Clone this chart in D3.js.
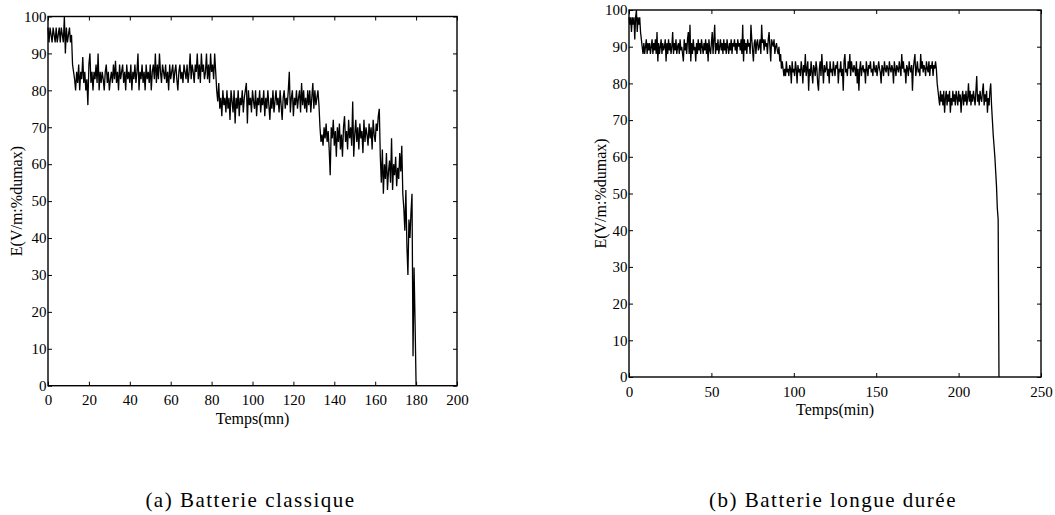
<!DOCTYPE html>
<html>
<head>
<meta charset="utf-8">
<script src="https://cdn.jsdelivr.net/npm/d3@7"></script>
<style>
  html, body { margin: 0; padding: 0; background: #fff; }
  svg { display: block; }
  .tick text { font-family: "Liberation Serif", "Times New Roman", serif; font-size: 15px; fill: #000; }
  .tick line { stroke: #000; stroke-width: 1; }
  .title { font-family: "Liberation Serif", "Times New Roman", serif; font-size: 16px; fill: #000; }
  .caption { font-family: "Liberation Serif", "Times New Roman", serif; font-size: 21px; letter-spacing: 1.5px; fill: #000; }
</style>
</head>
<body>
<svg id="fig" width="1055" height="515"></svg>
<script>
// Sampling interval of both recordings (minutes)
const sampleStep = 0.5;

// (a) Batterie classique — field level in % of max, one sample every 0.5 min, 0 → 180 min
const batterieClassique = [
  97,93,97,95,93,97,95,93,97,93,95,97,93,97,95,93,100,90,97,93,95,97,93,95,
  87,85,83,80,85,82,87,80,85,83,
  89,82,85,80,83,76,87,90,82,85,
  80,85,83,87,82,90,80,85,82,85,
  83,80,85,87,82,85,80,83,85,82,
  87,83,88,82,85,80,87,83,85,87,
  82,85,80,87,83,85,82,87,80,85,
  83,87,82,85,90,80,85,83,87,82,
  85,80,87,83,85,82,87,80,85,87,
  83,90,82,87,83,90,85,82,87,85,
  83,87,82,85,80,87,83,85,87,82,
  85,87,83,80,85,87,83,85,82,87,
  85,83,87,82,85,90,83,87,85,82,
  87,85,90,83,87,82,90,85,87,83,
  85,90,83,87,82,90,85,87,83,90,
  85,
  80,77,82,75,78,73,80,76,78,74,
  80,75,78,72,80,77,74,80,71,78,
  75,80,73,78,76,80,74,78,80,82,
  71,80,76,78,74,80,77,75,80,73,
  78,76,80,74,78,76,80,73,78,75,
  80,76,72,78,75,80,74,77,80,76,
  78,74,80,76,72,78,80,75,78,76,
  80,85,74,78,80,73,78,76,80,75,
  78,80,74,82,76,80,75,78,74,80,
  76,80,74,78,82,75,80,76,78,80,
  76,70,66,68,65,70,67,71,66,69,
  64,57,70,67,72,65,69,62,70,66,
  71,64,68,62,70,73,66,69,64,72,
  67,70,65,77,62,68,72,66,70,64,
  71,67,69,63,72,66,70,68,65,71,
  67,70,64,72,68,66,71,69,73,75,
  62,55,64,52,60,56,63,53,58,61,
  55,67,53,60,57,62,54,59,56,63,
  58,65,52,48,42,53,38,30,45,40,
  47,52,8,32,17,0
];

// (b) Batterie longue durée — same sampling, 0 → 224.5 min
const batterieLongueDuree = [
  98,96,98,94,98,96,98,92,98,100,94,98,96,98,94,
  92,90,88,91,88,90,92,88,91,89,
  91,88,90,92,88,91,89,92,88,94,
  86,91,88,90,92,88,91,89,90,92,
  86,91,88,92,89,91,88,90,94,88,
  91,89,92,88,90,91,88,92,89,90,
  88,86,92,89,91,88,92,94,88,96,
  86,91,88,92,89,90,86,91,88,92,
  89,91,88,92,90,88,91,89,92,88,
  91,86,92,89,88,91,94,88,92,96,
  88,91,89,92,88,90,92,89,91,88,
  92,89,91,88,92,90,88,91,89,92,
  88,91,90,92,89,91,88,92,90,91,
  89,92,88,96,86,92,89,91,88,92,
  90,91,88,96,92,89,86,91,92,88,
  91,92,89,90,92,88,96,91,92,89,
  92,90,91,88,92,94,90,86,92,91,
  90,92,88,90,91,89,
  88,90,86,88,84,86,84,82,
  84,82,86,83,84,82,85,84,80,86,
  83,84,82,86,84,80,85,83,84,82,
  86,84,80,85,83,88,82,84,86,78,
  84,82,86,83,80,85,84,82,86,84,
  80,78,84,86,82,88,84,80,85,83,
  84,86,82,84,80,86,83,84,82,86,
  84,82,85,84,86,80,84,83,86,82,
  84,78,86,88,83,84,82,86,84,88,
  82,86,84,83,85,84,82,86,80,84,
  78,84,86,82,84,85,83,84,80,86,
  84,82,85,84,86,83,84,82,86,84,
  83,85,82,84,86,84,83,80,85,84,
  82,86,84,83,85,84,82,86,84,83,
  85,84,80,86,84,82,85,84,83,86,
  84,82,88,84,86,83,84,80,85,84,
  82,86,84,83,85,78,84,86,88,82,
  84,86,83,84,82,88,84,86,83,85,
  84,82,86,84,83,86,82,85,84,86,
  82,85,84,86,84,
  80,78,76,74,78,75,77,74,78,72,
  76,78,74,77,75,78,72,76,74,78,
  75,77,74,78,76,74,78,75,77,72,
  76,78,74,77,75,78,74,76,80,75,
  78,74,77,75,78,76,74,78,82,75,
  77,74,78,76,75,78,80,74,77,75,
  78,72,76,74,78,80,74,
  70,66,63,60,56,52,46,43,0
];

// Axis ticks and labels
const yTicks = [0, 10, 20, 30, 40, 50, 60, 70, 80, 90, 100];
const xTicksClassique = [0, 20, 40, 60, 80, 100, 120, 140, 160, 180, 200];
const xTicksLongue = [0, 50, 100, 150, 200, 250];
const yTitle = "E(V/m:%dumax)";

const panels = [
  {
    data: batterieClassique, xMax: 200, xTicks: xTicksClassique,
    left: 48, right: 457, top: 16.5, bottom: 385.7,
    xTitle: "Temps(mn)", xTitleY: 424, yTitleX: 22,
    caption: "(a) Batterie classique"
  },
  {
    data: batterieLongueDuree, xMax: 250, xTicks: xTicksLongue,
    left: 629, right: 1041, top: 10, bottom: 377,
    xTitle: "Temps(min)", xTitleY: 415, yTitleX: 606,
    caption: "(b) Batterie longue durée"
  }
];

const svg = d3.select("#fig");

panels.forEach(p => {
  const x = d3.scaleLinear().domain([0, p.xMax]).range([p.left, p.right]);
  const y = d3.scaleLinear().domain([0, 100]).range([p.bottom, p.top]);
  const g = svg.append("g");

  // inward ticks on all four sides
  const bottomAxis = d3.axisBottom(x).tickValues(p.xTicks).tickFormat(d3.format("d"))
    .tickSizeInner(-4).tickSizeOuter(0).tickPadding(9);
  const topAxis = d3.axisTop(x).tickValues(p.xTicks).tickFormat(() => "")
    .tickSizeInner(-4).tickSizeOuter(0);
  const leftAxis = d3.axisLeft(y).tickValues(yTicks).tickFormat(d3.format("d"))
    .tickSizeInner(-4).tickSizeOuter(0).tickPadding(1.5);
  const rightAxis = d3.axisRight(y).tickValues(yTicks).tickFormat(() => "")
    .tickSizeInner(-4).tickSizeOuter(0);

  g.append("g").attr("transform", `translate(0,${p.bottom})`).call(bottomAxis);
  g.append("g").attr("transform", `translate(0,${p.top})`).call(topAxis);
  g.append("g").attr("transform", `translate(${p.left},0)`).call(leftAxis);
  g.append("g").attr("transform", `translate(${p.right},0)`).call(rightAxis);
  g.selectAll(".domain").remove();

  // the recorded signal
  const line = d3.line()
    .x((d, i) => x(i * sampleStep))
    .y(d => y(d));
  g.append("path")
    .datum(p.data)
    .attr("d", line)
    .attr("fill", "none")
    .attr("stroke", "#000")
    .attr("stroke-width", 1.3)
    .attr("stroke-linejoin", "miter");

  // plot frame
  g.append("rect")
    .attr("x", p.left).attr("y", p.top)
    .attr("width", p.right - p.left).attr("height", p.bottom - p.top)
    .attr("fill", "none").attr("stroke", "#000").attr("stroke-width", 1.4);

  // axis titles
  g.append("text").attr("class", "title")
    .attr("x", (p.left + p.right) / 2).attr("y", p.xTitleY)
    .attr("text-anchor", "middle").text(p.xTitle);
  g.append("text").attr("class", "title")
    .attr("transform", `translate(${p.yTitleX},${(p.top + p.bottom) / 2}) rotate(-90)`)
    .attr("text-anchor", "middle").text(yTitle);

  // sub-figure caption
  g.append("text").attr("class", "caption")
    .attr("x", (p.left + p.right) / 2 - 2).attr("y", 507)
    .attr("text-anchor", "middle").text(p.caption);
});
</script>
</body>
</html>
